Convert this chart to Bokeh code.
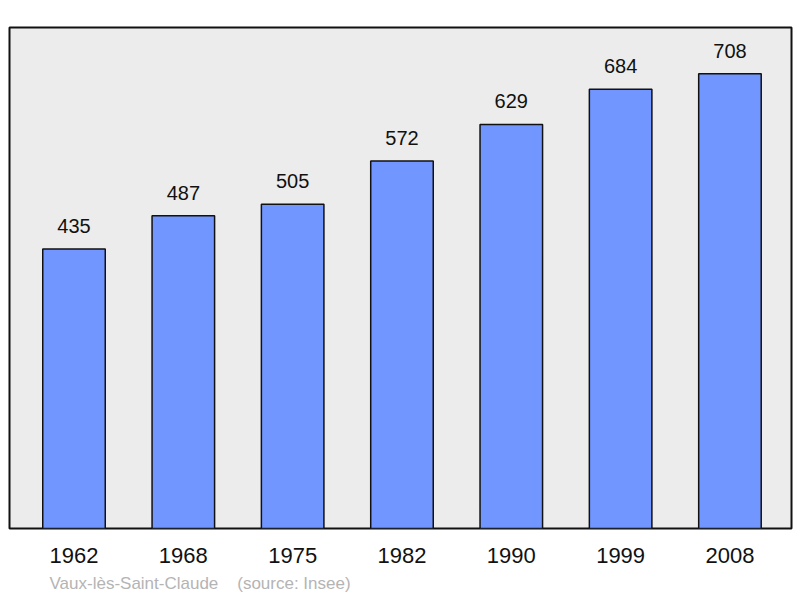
from bokeh.plotting import figure
from bokeh.models import Range1d, FixedTicker, ColumnDataSource, Title
from bokeh.embed import file_html
from bokeh.resources import INLINE
from bokeh.core.properties import value

years = ["1962", "1968", "1975", "1982", "1990", "1999", "2008"]
population = [435, 487, 505, 572, 629, 684, 708]
caption_place = "Vaux-lès-Saint-Claude"
caption_source = "(source: Insee)"

FONT = "Liberation Sans"
W, H = 800, 598
BL, BR, BT, BB = 9, 9, 27, 70
x0, x1 = -0.59, 6.563
y0, y1 = 0, 780

p = figure(width=W, height=H, output_backend="svg", toolbar_location=None,
           x_range=Range1d(x0, x1), y_range=Range1d(y0, y1),
           min_border_left=BL, min_border_right=BR, min_border_top=BT, min_border_bottom=BB)
p.background_fill_color = "#ececec"
p.border_fill_color = "white"
p.outline_line_color = "#111111"
p.outline_line_width = 2
p.grid.visible = False
p.yaxis.visible = False

xs = list(range(len(years)))
src = ColumnDataSource(dict(x=xs, top=population, lab=[str(v) for v in population]))
p.vbar(x="x", top="top", bottom=0, width=0.572, source=src,
       fill_color="#7196ff", line_color="#111111", line_width=1.5)
p.text(x="x", y="top", text="lab", source=src, text_align="center",
       text_baseline="alphabetic", y_offset=-23, text_font=value(FONT),
       text_font_size="20px", text_color="#111111")

ax = p.xaxis[0]
ax.ticker = FixedTicker(ticks=xs)
ax.major_label_overrides = {i: y for i, y in enumerate(years)}
ax.axis_line_color = None
ax.major_tick_line_color = None
ax.minor_tick_line_color = None
ax.major_tick_out = 0
ax.major_tick_in = 0
ax.major_label_standoff = 19
ax.major_label_text_font = FONT
ax.major_label_text_font_size = "22px"
ax.major_label_text_color = "#111111"

caption = caption_place + "\u00a0" * 4 + caption_source
p.add_layout(Title(text=caption, align="left", offset=40, standoff=12,
                   text_font=FONT, text_font_size="17px", text_font_style="normal",
                   text_color="#b4b4b4"), "below")

open("out.html", "w").write(file_html(p, INLINE))
